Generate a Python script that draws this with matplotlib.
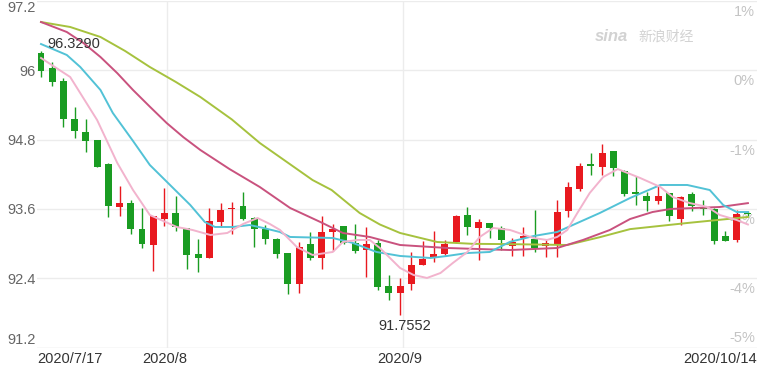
import matplotlib
matplotlib.use("Agg")
import matplotlib.pyplot as plt
import matplotlib.transforms as mtransforms
import numpy as np

plt.rcParams['font.family'] = ['Liberation Sans', 'DejaVu Sans']

# daily candles, 2020/7/17 .. 2020/10/14
opens = [96.305, 96.045, 95.820, 95.152, 94.937, 94.793, 94.378, 93.638, 93.707, 93.257,
         92.975, 93.425, 93.524, 93.264, 92.824, 92.755, 93.378, 93.593, 93.650, 93.437,
         93.252, 93.084, 92.831, 92.299, 92.992, 92.758, 93.195, 93.309, 93.015, 92.888,
         93.015, 92.265, 92.149, 92.299, 92.629, 92.772, 92.819, 93.032, 93.494, 93.264,
         93.350, 93.264, 92.960, 93.091, 93.080, 92.952, 92.992, 93.569, 93.939, 94.372,
         94.330, 94.603, 94.262, 93.898, 93.829, 93.745, 93.870, 93.425, 93.858, 93.628,
         93.598, 93.126, 93.067, 93.520]
highs = [96.329, 96.149, 95.872, 95.370, 95.152, 94.800, 94.390, 94.000, 93.754, 93.610,
         93.480, 93.967, 93.823, 93.270, 93.074, 93.610, 93.697, 93.725, 93.887, 93.465,
         93.320, 93.100, 92.840, 93.032, 93.205, 93.472, 93.333, 93.310, 93.333, 93.292,
         93.060, 92.461, 92.398, 92.859, 93.049, 93.222, 93.060, 93.490, 93.638, 93.420,
         93.360, 93.304, 93.100, 93.281, 93.581, 93.060, 93.754, 94.061, 94.400, 94.573,
         94.719, 94.610, 94.270, 94.170, 93.900, 94.000, 93.880, 93.820, 93.900, 93.754,
         93.610, 93.217, 93.581, 93.560]
lows = [95.889, 95.728, 95.023, 94.822, 94.580, 94.320, 93.465, 93.477, 93.165, 92.918,
        92.533, 93.304, 93.217, 92.554, 92.507, 92.750, 93.292, 93.160, 93.400, 92.935,
        93.000, 92.755, 92.126, 92.138, 92.715, 92.554, 92.876, 92.990, 92.840, 92.426,
        92.196, 92.028, 91.7552, 92.196, 92.620, 92.675, 92.810, 93.015, 93.148, 92.715,
        93.091, 92.888, 92.790, 92.790, 92.860, 92.762, 92.762, 93.455, 93.910, 94.187,
        94.187, 94.164, 93.820, 93.668, 93.569, 93.685, 93.396, 93.321, 93.570, 93.494,
        92.992, 93.040, 93.030, 93.470]
closes = [95.993, 95.803, 95.152, 94.954, 94.776, 94.331, 93.655, 93.707, 93.252, 92.992,
          93.477, 93.535, 93.281, 92.802, 92.755, 93.396, 93.581, 93.620, 93.425, 93.252,
          93.074, 92.819, 92.299, 92.945, 92.750, 93.205, 93.252, 93.015, 92.871, 92.992,
          92.242, 92.139, 92.265, 92.629, 92.727, 92.814, 92.994, 93.482, 93.281, 93.378,
          93.274, 93.061, 93.030, 93.131, 92.923, 93.004, 93.541, 93.974, 94.348, 94.340,
          94.563, 94.303, 93.863, 93.860, 93.742, 93.829, 93.482, 93.811, 93.656, 93.600,
          93.049, 93.050, 93.506, 93.505]

# moving averages: (day index, value)
ma5_days = [0, 2.6, 5.0, 6.8, 8.2, 9.7, 12.1, 13.5, 15.1, 16.6, 18.0, 19.3, 20.4, 21.3,
            22.8, 24.2, 26.0, 26.9, 28.2, 29.3, 30.2, 32.0, 33.2, 34.4, 35.6, 36.7, 38.0,
            39.1, 40.3, 41.8, 43.9, 45.1, 46.0, 46.9, 47.8, 48.9, 50.1, 51.4, 53.4, 55.2,
            56.3, 57.8, 59.4, 60.5, 62.0, 63.0]
ma5_vals = [96.213, 95.884, 95.139, 94.395, 93.927, 93.494, 93.287, 93.235, 93.148, 93.183,
            93.338, 93.442, 93.338, 93.235, 92.940, 92.802, 92.854, 93.027, 93.062, 93.062,
            92.923, 92.577, 92.456, 92.404, 92.490, 92.663, 92.854, 93.114, 93.270, 93.235,
            93.096, 93.062, 93.114, 93.235, 93.529, 93.875, 94.152, 94.290, 94.135, 93.979,
            93.806, 93.702, 93.633, 93.494, 93.408, 93.330]
ma10_days = [0, 2.3, 3.5, 5.3, 6.4, 8.2, 9.7, 11.5, 13.3, 14.6, 15.5, 17.1, 18.6, 19.8,
             21.3, 22.2, 26.0, 27.8, 29.9, 32.0, 34.7, 36.2, 38.0, 40.0, 41.8, 43.9, 46.0,
             47.8, 49.8, 52.5, 55.2, 57.6, 59.6, 60.8, 62.0, 63.0]
ma10_vals = [96.455, 96.265, 96.057, 95.659, 95.261, 94.776, 94.360, 94.014, 93.668, 93.373,
             93.287, 93.287, 93.321, 93.270, 93.200, 93.114, 93.096, 93.010, 92.854, 92.785,
             92.750, 92.785, 92.836, 92.854, 93.030, 93.130, 93.200, 93.356, 93.529, 93.789,
             94.014, 94.014, 93.927, 93.667, 93.546, 93.546]
ma20_days = [0, 2.3, 3.8, 5.3, 6.8, 8.2, 9.7, 11.2, 12.7, 14.2, 16.8, 19.5, 22.2, 24.9,
             26.9, 29.3, 32.0, 36.2, 41.8, 46.0, 48.3, 50.7, 52.5, 54.5, 56.1, 60.5, 63.0]
ma20_vals = [96.836, 96.663, 96.470, 96.230, 95.950, 95.659, 95.370, 95.087, 94.840, 94.620,
             94.290, 93.979, 93.616, 93.373, 93.183, 93.114, 92.975, 92.923, 92.888, 92.923,
             93.062, 93.235, 93.425, 93.546, 93.599, 93.633, 93.700]
ma30_days = [0, 2.6, 5.3, 7.5, 9.7, 12.0, 14.2, 17.0, 19.5, 22.0, 24.2, 25.9, 28.4, 30.2,
             32.0, 35.3, 38.5, 41.8, 46.9, 49.8, 52.5, 57.6, 63.0]
ma30_vals = [96.836, 96.750, 96.577, 96.334, 96.057, 95.800, 95.538, 95.150, 94.741, 94.400,
             94.100, 93.927, 93.529, 93.330, 93.183, 93.027, 92.995, 92.990, 92.975, 93.110,
             93.250, 93.356, 93.460]

date_ticks = [0, 11, 32, 63]
date_labels = ['2020/7/17', '2020/8', '2020/9', '2020/10/14']
month_days = [11, 32]
price_ticks = [97.2, 96.0, 94.8, 93.6, 92.4, 91.2]
price_labels = ['97.2', '96', '94.8', '93.6', '92.4', '91.2']
pct_labels = ['1%', '0%', '-1%', '-3%', '-4%', '-5%']

UP = '#e8191f'
DOWN = '#1a9c22'

fig = plt.figure(figsize=(7.6, 3.66), dpi=100)
ax = fig.add_axes([37 / 760, 18.5 / 366, 720 / 760, 346.5 / 366])

x = np.arange(len(opens))
o = np.array(opens)
c = np.array(closes)
colors = [UP if cc >= oo else DOWN for oo, cc in zip(o, c)]
bottoms = np.minimum(o, c)
heights = np.maximum(np.abs(c - o), 0.025)

ax.vlines(x, lows, highs, colors=colors, linewidth=1.0, zorder=3)
ax.bar(x, heights, bottom=bottoms, width=0.62, color=colors, linewidth=0, zorder=3)

line_kw = dict(lw=1.4, zorder=4, solid_joinstyle='round')
ax.plot(ma30_days, ma30_vals, color='#a6c23e', **line_kw)
ax.plot(ma20_days, ma20_vals, color='#c9527e', **line_kw)
ax.plot(ma10_days, ma10_vals, color='#52c2d6', **line_kw)
ax.plot(ma5_days, ma5_vals, color='#f2b3cd', **line_kw)

ax.set_xlim(-0.357, 63.81)
ax.set_ylim(91.2, 97.2)

ax.set_yticks(price_ticks)
ax.set_yticklabels(price_labels)
ylabs = ax.get_yticklabels()
ylabs[0].set_va('top')
ylabs[-1].set_va('bottom')
for lab in ylabs:
    lab.set_color('#666666')
ax.tick_params(axis='y', length=0, pad=1, labelsize=10.5)
ax.grid(axis='y', color='#ececec', lw=1, zorder=0)

ax.set_xticks(date_ticks)
ax.set_xticklabels(date_labels)
xlabs = ax.get_xticklabels()
xlabs[0].set_ha('left')
xlabs[-1].set_ha('right')
ax.tick_params(axis='x', length=0, pad=3, labelsize=10.5, labelcolor='#333333')
xlabs[-1].set_transform(xlabs[-1].get_transform() +
                        mtransforms.ScaledTranslation(9 / 100, 0, fig.dpi_scale_trans))
xlabs[0].set_transform(xlabs[0].get_transform() +
                       mtransforms.ScaledTranslation(-4 / 100, 0, fig.dpi_scale_trans))
for d in month_days:
    ax.axvline(d + 0.25, color='#ececec', lw=1, zorder=0)

for s in ax.spines.values():
    s.set_visible(False)
ax.axhline(91.2, color='#ececec', lw=1, zorder=0)

# right percent labels
trans = ax.get_yaxis_transform()
for i, (v, lab) in enumerate(zip(price_ticks, pct_labels)):
    if i == len(price_ticks) - 1:
        off = mtransforms.offset_copy(trans, fig=fig, x=-2, y=3, units='dots')
        va = 'bottom'
    else:
        off = mtransforms.offset_copy(trans, fig=fig, x=-2, y=-4, units='dots')
        va = 'top'
    ax.text(1.0, v, lab, transform=off, ha='right', va=va, fontsize=10.5,
            color='#c4c4c4', zorder=1)

# max / min annotations
imax = int(np.argmax(highs))
imin = int(np.argmin(lows))
ax.annotate(f'{highs[imax]:.4f}', xy=(imax, highs[imax]), xytext=(6, 7),
            textcoords='offset pixels', ha='left', va='center', fontsize=10.5,
            color='#333333', zorder=5)
ax.annotate(f'{lows[imin]:.4f}', xy=(imin, lows[imin]), xytext=(5, -11),
            textcoords='offset pixels', ha='center', va='center', fontsize=10.5,
            color='#333333', zorder=5)

# watermark
ax.text(0.775, 0.897, 'sina', transform=ax.transAxes, fontsize=12, style='italic',
        weight='bold', color='#d2d2d2', va='center', ha='left', zorder=1)
ax.text(0.835, 0.897, '新浪财经', transform=ax.transAxes, fontsize=10,
        family=['Noto Sans CJK SC', 'DejaVu Sans'], color='#d2d2d2', va='center',
        ha='left', zorder=1)

fig.savefig('out.png', dpi=100)
